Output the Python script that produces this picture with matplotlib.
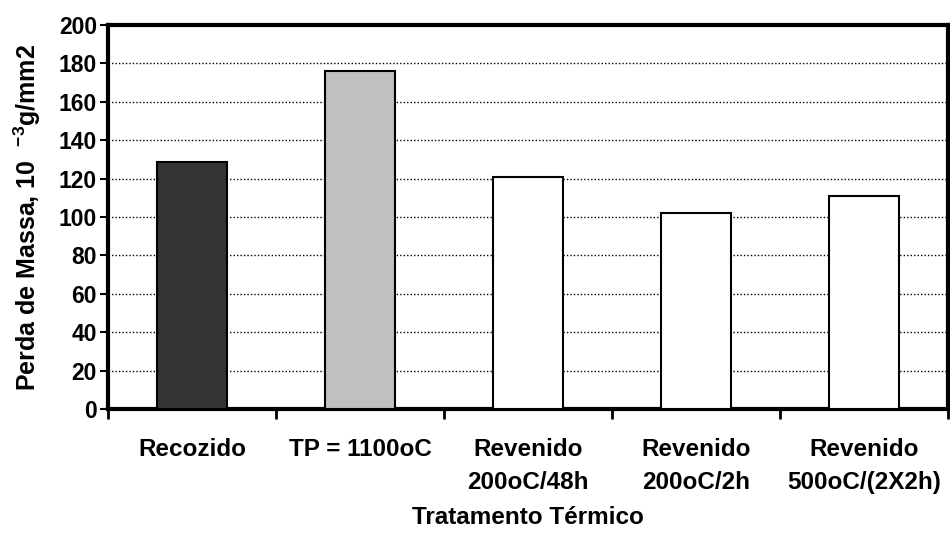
import numpy as np
import matplotlib
matplotlib.use('Agg')
import matplotlib.pyplot as plt

# data
categories = ['Recozido', 'TP = 1100oC', 'Revenido\n200oC/48h', 'Revenido\n200oC/2h', 'Revenido\n500oC/(2X2h)']
values = [128.5, 176, 121, 102.3, 111.2]
colors = ['#333333', '#c0c0c0', '#ffffff', '#ffffff', '#ffffff']

plt.rcParams['font.family'] = 'Liberation Sans'
plt.rcParams['font.weight'] = 'bold'
plt.rcParams['mathtext.fontset'] = 'custom'
plt.rcParams['mathtext.rm'] = 'Liberation Sans:bold'
plt.rcParams['mathtext.bf'] = 'Liberation Sans:bold'

fig = plt.figure(figsize=(9.5, 5.46), dpi=100)
ax = fig.add_axes([0.1137, 0.251, 0.884, 0.703])

x = np.arange(len(categories))
ax.bar(x, values, width=0.42, color=colors, edgecolor='black', linewidth=1.5, zorder=3)

ax.set_xlim(-0.5, len(categories) - 0.5)
ax.set_ylim(0, 200)
ax.set_yticks(range(0, 201, 20))
ax.grid(axis='y', linestyle=(0, (1, 1.5)), color='black', linewidth=1, zorder=0)

# ticks at category borders, labels in the middle
ax.set_xticks(np.arange(-0.5, len(categories), 1))
ax.set_xticklabels([])
ax.set_xticks(x, minor=True)
ax.set_xticklabels(categories, minor=True, fontsize=17.5, fontweight='bold', linespacing=1.53, va='top')
ax.tick_params(axis='x', which='minor', length=0, pad=21)
ax.tick_params(axis='x', which='major', length=7, width=2, direction='out')
ax.tick_params(axis='y', length=6, width=1.5, direction='out', labelsize=16.5, pad=2)
for lab in ax.get_yticklabels():
    lab.set_fontweight('bold')

for s in ax.spines.values():
    s.set_linewidth(3)

ax.set_ylabel('Perda de Massa, 10  $^{-3}$g/mm2', fontsize=18, fontweight='bold')
ax.yaxis.set_label_coords(-0.078, 0.5)
ax.set_xlabel('Tratamento Térmico', fontsize=17.5, fontweight='bold')
ax.xaxis.set_label_coords(0.5, -0.252)

fig.savefig('out.png', dpi=100)
